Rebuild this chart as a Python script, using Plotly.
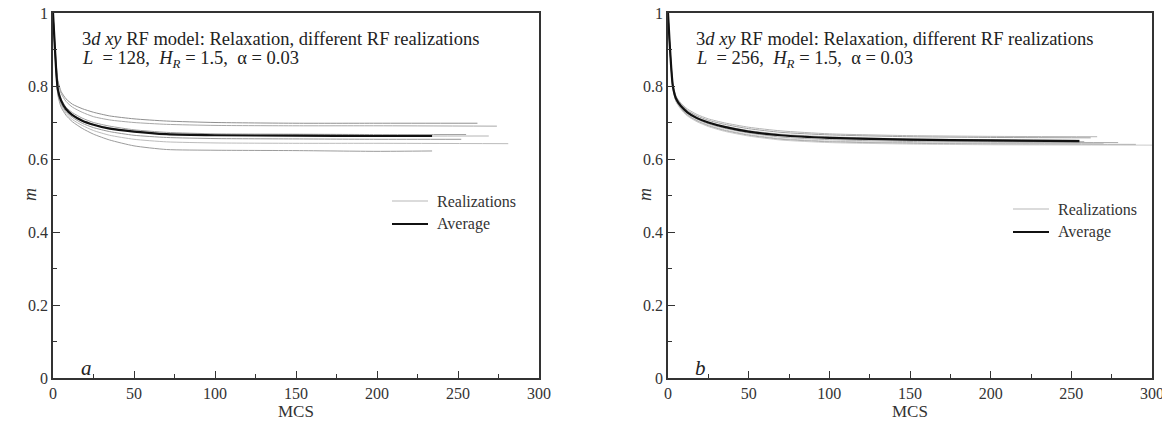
import plotly.graph_objects as go

# ---------------- data ----------------
T_GRID = [0, 1, 2, 3, 5, 8, 12, 18, 25, 35, 50, 70, 100, 150, 200]

# Panel a (L = 128)
A_REAL = [
    [1, 0.93, 0.86, 0.815, 0.785, 0.765, 0.75, 0.738, 0.728, 0.718, 0.71, 0.704, 0.700, 0.698, 0.698],
    [1, 0.925, 0.855, 0.81, 0.78, 0.758, 0.742, 0.728, 0.716, 0.707, 0.700, 0.695, 0.692, 0.691, 0.691],
    [1, 0.92, 0.845, 0.795, 0.765, 0.742, 0.727, 0.712, 0.700, 0.690, 0.680, 0.673, 0.669, 0.668, 0.667],
    [1, 0.92, 0.84, 0.79, 0.76, 0.738, 0.722, 0.707, 0.695, 0.685, 0.676, 0.669, 0.665, 0.664, 0.663],
    [1, 0.915, 0.835, 0.785, 0.752, 0.73, 0.714, 0.698, 0.686, 0.675, 0.665, 0.659, 0.656, 0.655, 0.654],
    [1, 0.915, 0.83, 0.78, 0.748, 0.725, 0.708, 0.692, 0.678, 0.665, 0.654, 0.647, 0.644, 0.643, 0.643],
    [1, 0.91, 0.83, 0.775, 0.742, 0.72, 0.702, 0.684, 0.668, 0.652, 0.636, 0.626, 0.624, 0.623, 0.621],
]
A_REAL_END_T = [262, 274, 255, 269, 252, 281, 234]
A_REAL_END_M = [0.698, 0.690, 0.667, 0.663, 0.654, 0.642, 0.622]
A_AVG = [1, 0.918, 0.84, 0.79, 0.76, 0.737, 0.72, 0.705, 0.694, 0.683, 0.675, 0.668, 0.665, 0.664, 0.663]
A_AVG_END_T = 234
A_AVG_END_M = 0.663

# Panel b (L = 256)
B_REAL = [
    [1, 0.925, 0.855, 0.805, 0.772, 0.753, 0.737, 0.722, 0.710, 0.699, 0.687, 0.677, 0.669, 0.664, 0.662],
    [1, 0.922, 0.853, 0.803, 0.769, 0.750, 0.733, 0.718, 0.706, 0.695, 0.683, 0.673, 0.666, 0.661, 0.659],
    [1, 0.920, 0.851, 0.801, 0.767, 0.747, 0.730, 0.714, 0.702, 0.690, 0.678, 0.668, 0.661, 0.655, 0.653],
    [1, 0.919, 0.849, 0.799, 0.764, 0.744, 0.727, 0.711, 0.699, 0.687, 0.674, 0.664, 0.657, 0.651, 0.648],
    [1, 0.918, 0.848, 0.798, 0.762, 0.742, 0.725, 0.709, 0.696, 0.684, 0.671, 0.660, 0.653, 0.648, 0.646],
    [1, 0.917, 0.846, 0.796, 0.760, 0.740, 0.722, 0.706, 0.693, 0.680, 0.667, 0.656, 0.649, 0.645, 0.643],
    [1, 0.916, 0.845, 0.795, 0.758, 0.738, 0.720, 0.704, 0.691, 0.678, 0.665, 0.654, 0.647, 0.643, 0.641],
    [1, 0.915, 0.844, 0.794, 0.757, 0.736, 0.718, 0.702, 0.689, 0.676, 0.663, 0.652, 0.645, 0.641, 0.639],
]
B_REAL_END_T = [266, 262, 255, 258, 279, 270, 290, 300]
B_REAL_END_M = [0.661, 0.658, 0.652, 0.647, 0.645, 0.642, 0.640, 0.638]
B_AVG = [1, 0.92, 0.85, 0.80, 0.765, 0.745, 0.728, 0.712, 0.700, 0.688, 0.675, 0.665, 0.658, 0.653, 0.651]
B_AVG_END_T = 255
B_AVG_END_M = 0.649

A_TEXT1 = "3<i>d xy</i> RF model: Relaxation, different RF realizations"
A_TEXT2 = "<i>L</i>&nbsp; = 128,&nbsp; <i>H</i><sub><i>R</i></sub> = 1.5,&nbsp; α = 0.03"
B_TEXT1 = "3<i>d xy</i> RF model: Relaxation, different RF realizations"
B_TEXT2 = "<i>L</i>&nbsp; = 256,&nbsp; <i>H</i><sub><i>R</i></sub> = 1.5,&nbsp; α = 0.03"
LEG_LABELS = ["Realizations", "Average"]
PANEL_LABELS = ["a", "b"]
X_TITLE = "MCS"
Y_TITLE = "m"
Y_TICKVALS = [0, 0.2, 0.4, 0.6, 0.8, 1]
Y_TICKTEXT = ["0", "0.2", "0.4", "0.6", "0.8", "1"]
X_TICKVALS = [0, 50, 100, 150, 200, 250, 300]

# ---------------- figure ----------------
W, H = 1162, 422
FONT = "Liberation Serif, Times New Roman, serif"
GRAYS_A = ["#909090", "#a8a8a8", "#a0a0a0", "#b5b5b5", "#989898", "#bcbcbc", "#9c9c9c"]
GRAYS_B = ["#b5b5b5", "#a0a0a0", "#c0c0c0", "#969696", "#adadad", "#c8c8c8", "#a4a4a4", "#cacaca"]

fig = go.Figure()

def add_panel(real, end_t, end_m, avg, avg_end_t, avg_end_m, xa, ya, grays):
    for i, vals in enumerate(real):
        fig.add_trace(go.Scatter(
            x=T_GRID + [end_t[i]], y=vals + [end_m[i]], mode="lines",
            line=dict(color=grays[i % len(grays)], width=1, shape="spline", smoothing=0.6),
            xaxis=xa, yaxis=ya, showlegend=False, hoverinfo="skip"))
    fig.add_trace(go.Scatter(
        x=T_GRID + [avg_end_t], y=avg + [avg_end_m], mode="lines",
        line=dict(color="#111111", width=2.2, shape="spline", smoothing=0.6),
        xaxis=xa, yaxis=ya, showlegend=False, hoverinfo="skip"))

add_panel(A_REAL, A_REAL_END_T, A_REAL_END_M, A_AVG, A_AVG_END_T, A_AVG_END_M, "x", "y", GRAYS_A)
add_panel(B_REAL, B_REAL_END_T, B_REAL_END_M, B_AVG, B_AVG_END_T, B_AVG_END_M, "x2", "y2", GRAYS_B)

y0p, y1p = 1 - 378 / H, 1 - 13 / H
dom_a = [53 / W, 539 / W]
dom_b = [668 / W, 1152 / W]

def xaxis(dom, anchor):
    return dict(domain=dom, anchor=anchor, range=[0, 300], showline=True, linecolor="#333",
                linewidth=1.5, mirror=True, ticks="inside", ticklen=7, tickwidth=1.2,
                tickcolor="#333", tickvals=X_TICKVALS, showgrid=False, zeroline=False,
                tickfont=dict(family=FONT, size=16, color="#333"), ticklabeloverflow="allow",
                minor=dict(tickvals=[25, 75, 125, 175, 225, 275], ticks="inside", ticklen=4,
                           tickcolor="#333", tickwidth=1.2),
                automargin=False, fixedrange=True)

def yaxis(anchor):
    return dict(domain=[y0p, y1p], anchor=anchor, range=[0, 1], showline=True, linecolor="#333",
                linewidth=1.5, mirror=True, ticks="inside", ticklen=7, tickwidth=1.2,
                tickcolor="#333", tickvals=Y_TICKVALS, ticktext=Y_TICKTEXT, showgrid=False,
                zeroline=False, tickfont=dict(family=FONT, size=16, color="#333"),
                ticklabeloverflow="allow",
                minor=dict(tickvals=[0.1, 0.3, 0.5, 0.7, 0.9], ticks="inside", ticklen=4,
                           tickcolor="#333", tickwidth=1.2),
                automargin=False, fixedrange=True)

fig.update_layout(
    width=W, height=H, margin=dict(l=0, r=0, t=0, b=0),
    paper_bgcolor="white", plot_bgcolor="white",
    xaxis=xaxis(dom_a, "y"), yaxis=yaxis("x"),
    xaxis2=xaxis(dom_b, "y2"), yaxis2=yaxis("x2"),
    showlegend=False,
)

ann = []
shapes = []

def px(x):
    return x / W

def py(y):
    return 1 - y / H

def panel_text(x0, t1, t2, label, leg_x0, leg_y0, dom):
    ann.append(dict(x=px(x0), y=py(39), xref="paper", yref="paper", text=t1, showarrow=False,
                    xanchor="left", yanchor="middle", font=dict(family=FONT, size=18.5, color="#222")))
    ann.append(dict(x=px(x0), y=py(59), xref="paper", yref="paper", text=t2, showarrow=False,
                    xanchor="left", yanchor="middle", font=dict(family=FONT, size=18.5, color="#222")))
    ann.append(dict(x=px(x0 + 6), y=py(368), xref="paper", yref="paper", text="<i>" + label + "</i>",
                    showarrow=False, xanchor="center", yanchor="middle",
                    font=dict(family=FONT, size=21, color="#222")))
    # legend
    for k, lab in enumerate(LEG_LABELS):
        yy = leg_y0 + 23 * k
        shapes.append(dict(type="line", xref="paper", yref="paper",
                           x0=px(leg_x0), x1=px(leg_x0 + 36), y0=py(yy), y1=py(yy),
                           line=dict(color="#b8b8b8" if k == 0 else "#111", width=1.2 if k == 0 else 2.2)))
        ann.append(dict(x=px(leg_x0 + 43), y=py(yy), xref="paper", yref="paper", text=lab,
                        showarrow=False, xanchor="left", yanchor="middle",
                        font=dict(family=FONT, size=16, color="#333")))
    # axis titles
    ann.append(dict(x=(dom[0] + dom[1]) / 2, y=py(411), xref="paper", yref="paper", text=X_TITLE,
                    showarrow=False, xanchor="center", yanchor="middle",
                    font=dict(family=FONT, size=17, color="#333")))
    ann.append(dict(x=dom[0] - 23 / W, y=py(195), xref="paper", yref="paper",
                    text="<i>" + Y_TITLE + "</i>", textangle=-90, showarrow=False,
                    xanchor="center", yanchor="middle", font=dict(family=FONT, size=18, color="#333")))

panel_text(80, A_TEXT1, A_TEXT2, PANEL_LABELS[0], 392, 201, dom_a)
panel_text(694, B_TEXT1, B_TEXT2, PANEL_LABELS[1], 1013, 209, dom_b)

fig.update_layout(annotations=ann, shapes=shapes)

fig.write_html("out.html")
